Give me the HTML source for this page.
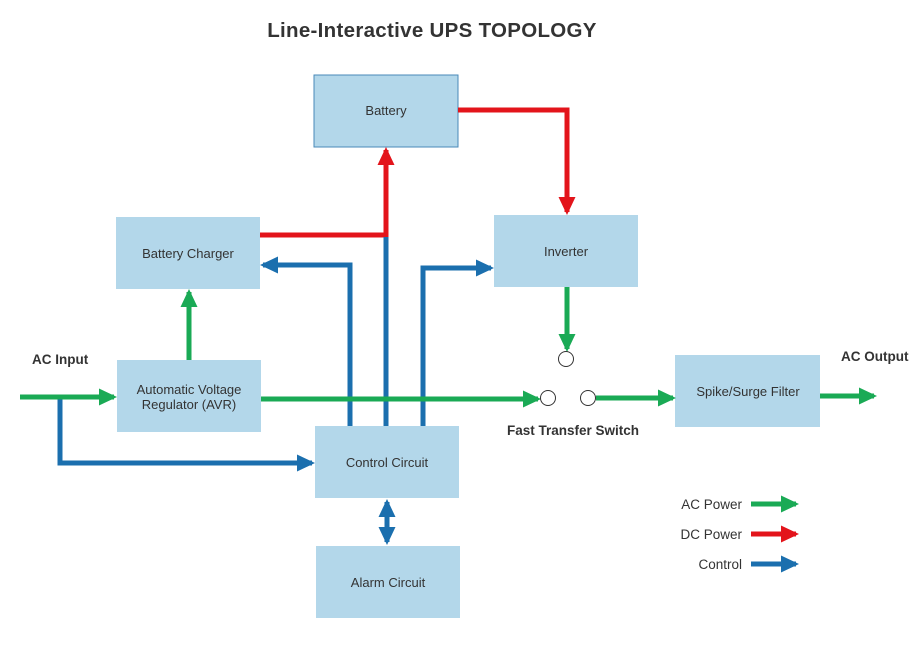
<!DOCTYPE html>
<html><head><meta charset="utf-8"><style>
body{margin:0;background:#fff}
svg{display:block;font-family:"Liberation Sans",Arial,sans-serif}
</style></head><body>
<svg width="917" height="662" viewBox="0 0 917 662" xmlns="http://www.w3.org/2000/svg">
<defs>
<marker id="g" markerWidth="3.6" markerHeight="3.4" refX="3" refY="1.7" orient="auto" markerUnits="strokeWidth"><path d="M0,0 L3.6,1.7 L0,3.4 z" fill="#1aaa55"/></marker>
<marker id="r" markerWidth="3.6" markerHeight="3.4" refX="3" refY="1.7" orient="auto" markerUnits="strokeWidth"><path d="M0,0 L3.6,1.7 L0,3.4 z" fill="#e3141b"/></marker>
<marker id="b" markerWidth="3.6" markerHeight="3.4" refX="3" refY="1.7" orient="auto" markerUnits="strokeWidth"><path d="M0,0 L3.6,1.7 L0,3.4 z" fill="#1b6fae"/></marker>
<marker id="bs" markerWidth="3.6" markerHeight="3.4" refX="3" refY="1.7" orient="auto-start-reverse" markerUnits="strokeWidth"><path d="M0,0 L3.6,1.7 L0,3.4 z" fill="#1b6fae"/></marker>
</defs>
<text x="432" y="37" text-anchor="middle" font-size="20.5" font-weight="bold" fill="#333" letter-spacing="0.3">Line-Interactive UPS TOPOLOGY</text>
<g fill="#b3d7ea">
<rect x="314" y="75" width="144" height="72" stroke="#4a8ab8" stroke-width="1"/>
<rect x="116" y="217" width="144" height="72"/>
<rect x="494" y="215" width="144" height="72"/>
<rect x="117" y="360" width="144" height="72"/>
<rect x="315" y="426" width="144" height="72"/>
<rect x="316" y="546" width="144" height="72"/>
<rect x="675" y="355" width="145" height="72"/>
</g>
<g fill="none" stroke-width="5">
<path d="M260,235 H386 V150" stroke="#e3141b" marker-end="url(#r)"/>
<path d="M458,110 H567 V212" stroke="#e3141b" marker-end="url(#r)"/>
<path d="M350,426 V265 H263" stroke="#1b6fae" marker-end="url(#b)"/>
<path d="M386,426 V237" stroke="#1b6fae"/>
<path d="M423,426 V268 H491" stroke="#1b6fae" marker-end="url(#b)"/>
<path d="M60,397 V463 H312" stroke="#1b6fae" marker-end="url(#b)"/>
<path d="M387,502 V542" stroke="#1b6fae" marker-start="url(#bs)" marker-end="url(#bs)"/>
<path d="M20,397 H114" stroke="#1aaa55" marker-end="url(#g)"/>
<path d="M189,360 V292" stroke="#1aaa55" marker-end="url(#g)"/>
<path d="M261,399 H538" stroke="#1aaa55" marker-end="url(#g)"/>
<path d="M567,287 V349" stroke="#1aaa55" marker-end="url(#g)"/>
<path d="M596,398 H673" stroke="#1aaa55" marker-end="url(#g)"/>
<path d="M820,396 H874" stroke="#1aaa55" marker-end="url(#g)"/>
<path d="M751,504 H796" stroke="#1aaa55" marker-end="url(#g)"/>
<path d="M751,534 H796" stroke="#e3141b" marker-end="url(#r)"/>
<path d="M751,564 H796" stroke="#1b6fae" marker-end="url(#b)"/>
</g>
<g fill="#fff" stroke="#333" stroke-width="1">
<circle cx="566" cy="359" r="7.5"/>
<circle cx="548" cy="398" r="7.5"/>
<circle cx="588" cy="398" r="7.5"/>
</g>
<g font-size="13" fill="#333" text-anchor="middle">
<text x="386" y="115">Battery</text>
<text x="188" y="258">Battery Charger</text>
<text x="566" y="256">Inverter</text>
<text x="189" y="394">Automatic Voltage</text>
<text x="189" y="409">Regulator (AVR)</text>
<text x="387" y="467">Control Circuit</text>
<text x="388" y="587">Alarm Circuit</text>
<text x="748" y="396">Spike/Surge Filter</text>
</g>
<g font-size="13.5" fill="#333" font-weight="bold">
<text x="32" y="364">AC Input</text>
<text x="841" y="361">AC Output</text>
<text x="507" y="435">Fast Transfer Switch</text>
</g>
<g font-size="13.5" fill="#333" text-anchor="end">
<text x="742" y="509">AC Power</text>
<text x="742" y="539">DC Power</text>
<text x="742" y="569">Control</text>
</g>
</svg>
</body></html>
